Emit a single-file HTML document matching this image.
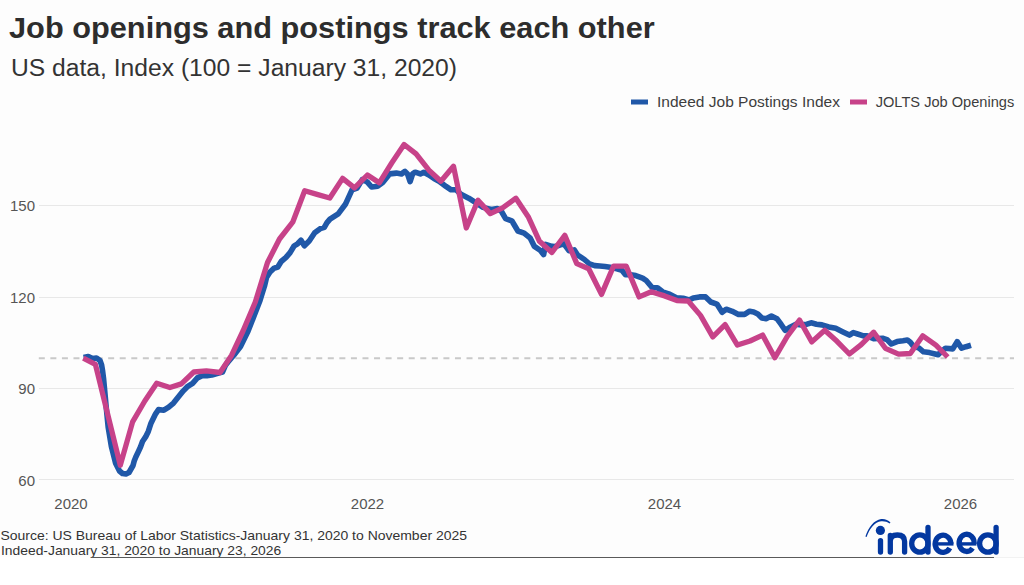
<!DOCTYPE html>
<html><head><meta charset="utf-8">
<style>
html,body{margin:0;padding:0;background:#fff;}
body{width:1024px;height:585px;overflow:hidden;position:relative;font-family:"Liberation Sans",sans-serif;}
svg{position:absolute;left:0;top:0;}
</style></head>
<body>
<svg width="1024" height="585" viewBox="0 0 1024 585" font-family="Liberation Sans, sans-serif">
<rect x="0" y="0" width="1024" height="557" fill="#fdfdfd"/>
<text x="9" y="38" font-size="30" font-weight="bold" fill="#2d2d2d" textLength="645.7" lengthAdjust="spacingAndGlyphs">Job openings and postings track each other</text>
<text x="11" y="76" font-size="23" fill="#333" textLength="446" lengthAdjust="spacingAndGlyphs">US data, Index (100 = January 31, 2020)</text>
<!-- legend -->
<rect x="631" y="99.5" width="17" height="5" fill="#2058a8"/>
<text x="657" y="107.3" font-size="15" fill="#3d3d3d" textLength="182.9" lengthAdjust="spacingAndGlyphs">Indeed Job Postings Index</text>
<rect x="850" y="99.5" width="17" height="5" fill="#c74289"/>
<text x="875.7" y="107.3" font-size="15" fill="#3d3d3d" textLength="138.6" lengthAdjust="spacingAndGlyphs">JOLTS Job Openings</text>
<!-- grid -->
<g stroke="#e8e8e8" stroke-width="1">
<line x1="39" y1="205.5" x2="1014" y2="205.5"/>
<line x1="39" y1="297.5" x2="1014" y2="297.5"/>
<line x1="39" y1="388.5" x2="1014" y2="388.5"/>
<line x1="39" y1="479.5" x2="1014" y2="479.5"/>
</g>
<line x1="38.8" y1="358.2" x2="1014" y2="358.2" stroke="#c9c9c9" stroke-width="2" stroke-dasharray="6 5.56"/>
<g font-size="15" fill="#555" text-anchor="end">
<text x="35" y="211">150</text>
<text x="35" y="302.5">120</text>
<text x="35" y="394">90</text>
<text x="35" y="485.5">60</text>
</g>
<g font-size="15" fill="#555" text-anchor="middle">
<text x="71" y="509">2020</text>
<text x="367.5" y="509">2022</text>
<text x="664.5" y="509">2024</text>
<text x="960.5" y="509">2026</text>
</g>
<polyline points="83.6,357.6 88.3,356.6 92.4,358.6 96.5,358 100,360.5 101.6,365 102.6,371 103.5,378 104.5,388.4 106,405 108.2,427.3 111.4,446.5 115.5,462.9 119.5,471 122.5,473.5 126,474 129,472.5 131,469 133,465.5 134.2,461 135.8,457 138.2,452 140.5,447 142.5,441.5 145.6,436.9 148.3,431.4 151,423.2 155.6,413.8 158.5,409.6 163.9,410.2 168.7,407.2 173.5,403.1 178.3,397.1 183.1,391.1 187.8,386.3 192.6,383.3 197.4,377.9 202.2,375.6 207,375.6 211.8,375 217.8,373.2 222.5,372 225.4,365.4 228,362 234,355 240.5,346.5 248,331.2 254,316 260,300.4 264.5,286 266.5,277.5 270,272 273.7,268.4 277.8,267 281.2,261.5 286,257.4 290.1,252.6 294.2,245.8 297.6,243.8 301,240.3 304.4,245.8 309.2,241 314.7,232.8 320.2,228.7 324.3,227.3 327,222.6 330,219.1 338.2,213.9 345.4,204.3 352,189.8 357.1,188 362.2,179.6 367.4,182.1 371.6,187 377.6,186.2 382.7,182.5 389.6,173.9 396.4,173.1 401.5,173.9 405,171.4 407.5,173.9 410.1,181.6 412.6,173.9 415.2,172.2 420.3,173.9 423.8,172.2 428.9,175 434,178.5 439.1,181.3 446,186.4 451.1,189.8 456.2,189.8 460.5,194.1 468.7,198.2 476.9,203.3 483.1,207.4 491.3,209.5 497.4,208.5 501.5,211.5 505.6,218.7 511.8,220.8 517.9,231 524.1,233.1 530.3,238.2 534.4,246.4 540.5,250.5 543.6,254.6 545.6,244.4 551.8,246.4 555.4,246.5 560.5,244.8 563.9,243.9 569.1,250.8 574.2,249.9 577.6,255 584.4,259.5 589.6,264 594.7,265.6 599.8,266 605,266.5 610.1,267.2 616.9,268.8 622.1,270.4 625.5,274.7 630.6,274.7 635.7,275.6 642.6,278.1 646.2,280.5 652.3,287.7 657.4,287.7 662.6,291.8 668.7,293.8 676.9,297.9 683.1,298.3 689.2,300 693.3,297.9 699.5,296.9 705.6,296.9 710.8,302 716.9,304.1 722.1,312.3 726.2,309.2 732.3,311.3 738.5,314.4 744.6,314.4 749.6,311.2 753.7,311.9 757.8,313.9 761.9,318 766,318.7 771.4,316 776.9,318.7 781,324.2 785.1,330.3 790.6,326.9 796,324.2 801.5,324.9 807,324.2 811.1,322.8 816.5,324.2 822,324.9 828.8,326.9 835.7,328.3 842.5,331.7 849.4,335.1 853.3,332.6 857.6,334 863.4,335.9 867.1,335.9 873.7,338.8 882.5,338.2 886.9,339.6 891.3,344 897.1,341.6 903,340.8 907.4,340.1 910.3,342.3 913.2,346 919.1,348.2 923.5,351.8 929.4,352.6 935.2,354 938.1,354.8 941.1,351.8 945.5,348.2 952.8,348.9 957.2,341.6 961.6,348.2 966,346.7 971,345.2" fill="none" stroke="#2058a8" stroke-width="5.6" stroke-linejoin="round" stroke-linecap="butt"/>
<polyline points="83.3,358.2 95.4,364.4 120.3,465.3 132.6,421.9 144.8,401 156.7,383.3 169.9,387.5 181.3,383.9 193.8,372 206.4,370.8 220,372.5 231.5,355.4 243,331 255.3,302 267.5,262.5 279.5,239 292.7,222.2 304.7,190.8 317,194.4 329.8,198 342.6,178.4 354.5,187.9 367.4,175 379.3,182.8 391.7,163 404.1,144.5 416.1,153.9 428.9,170.2 440.9,181.3 453.5,166.2 466.3,228 478,200.3 490.3,213.6 502.6,207.8 515.9,198.2 528.2,216.7 539.5,241.3 551.9,252.5 564.8,235.4 576.8,263.6 588.7,268.7 601.5,294.4 613.5,266.2 626.3,266.2 639.1,296.9 651.2,291.8 664.6,295.9 676.9,300.6 688.2,301 700.5,315.4 712.8,336.9 725.1,324.6 737.4,345.1 750,341 762.6,335.1 774.9,357.7 787.2,336.5 799.5,320 811.8,341.9 824.7,330.3 837,341.3 849.4,354 861.2,344.7 873.7,332.2 885.4,348.3 898.6,354.2 910.3,353.5 922.8,335.8 935.9,345.2 947.7,357" fill="none" stroke="#c74289" stroke-width="5.3" stroke-linejoin="round" stroke-linecap="butt"/>
<g font-size="13" fill="#333">
<text x="0.5" y="540" textLength="466.5" lengthAdjust="spacingAndGlyphs">Source: US Bureau of Labor Statistics-January 31, 2020 to November 2025</text>
<text x="1" y="554.5" textLength="280.2" lengthAdjust="spacingAndGlyphs">Indeed-January 31, 2020 to January 23, 2026</text>
</g>
<line x1="91" y1="557.5" x2="994" y2="557.5" stroke="#5a5a5a" stroke-width="1.2"/>
<line x1="994" y1="557.5" x2="1024" y2="557.5" stroke="#f2f2f2" stroke-width="1"/>
<!-- logo -->
<g fill="none" stroke="#0338a0" stroke-width="5.3" stroke-linecap="round">
<path d="M865.4,536.6 C868.4,527.4 874,520.2 881.1,519.1 C884.4,518.6 888.1,519.9 890.5,522.5 L889.5,523.5 C887.2,521.6 884.2,520.9 881.1,521.2 C874.8,522 869.6,528.5 866.6,537 Z" fill="#0338a0" stroke="none"/>
<circle cx="880.4" cy="530.4" r="4.6" fill="#0338a0" stroke="none"/>
<path d="M880.5,540.6 V552"/>
<path d="M890.3,535.5 V552 M890.3,541 C890.3,536.6 893,535 897.4,535 C902,535 904.6,537.2 904.6,541.5 V552"/>
<path d="M928,527.4 V552"/>
<ellipse cx="919.85" cy="543.5" rx="8.15" ry="8.6"/>
<path d="M950.85,543.8 A7.85,8.6 0 1 0 949.8,548.1" stroke-linecap="butt"/>
<path d="M935,543.9 H953.5" stroke-width="3.4" stroke-linecap="butt"/>
<path d="M974.05,543.8 A7.5,8.6 0 1 0 972.55,548.1" stroke-linecap="butt"/>
<path d="M958.5,543.9 H976.5" stroke-width="3.4" stroke-linecap="butt"/>
<path d="M996.1,527.4 V552"/>
<ellipse cx="987.85" cy="543.5" rx="8.25" ry="8.6"/>
</g>
</svg>
</body></html>
